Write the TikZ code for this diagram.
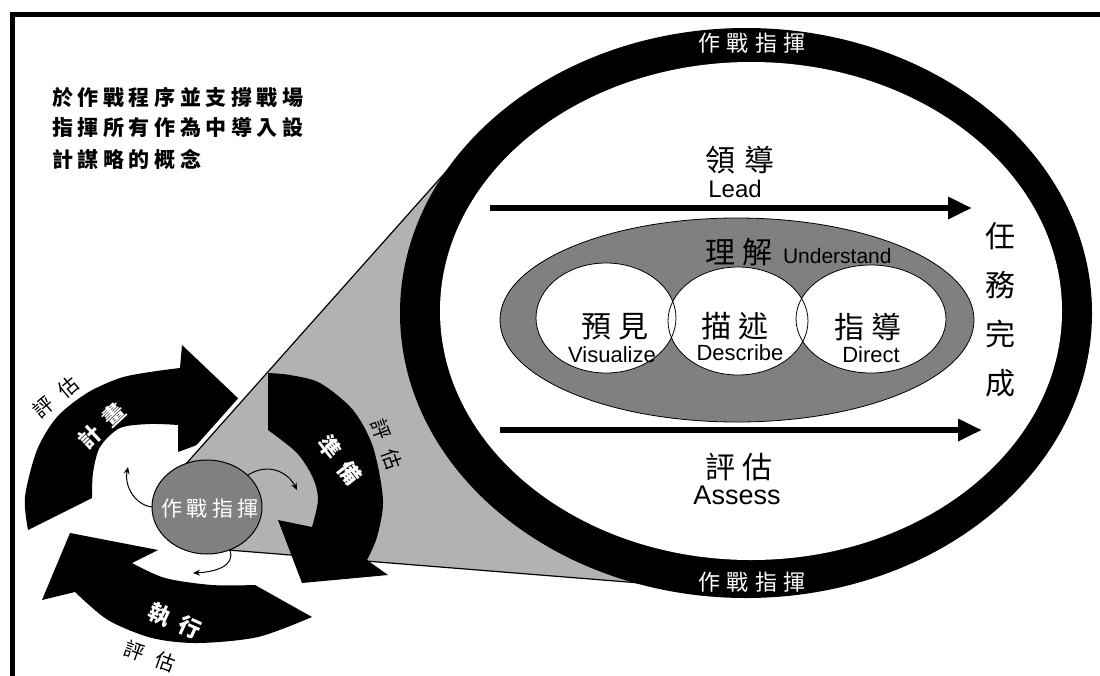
\documentclass[tikz,border=0pt]{standalone}
\usepackage{fontspec}
\setmainfont{Liberation Sans}
\newfontfamily\cjk{Noto Sans CJK TC}
\newfontfamily\cjkA{Noto Sans CJK TC}[LetterSpace=22]
\newfontfamily\cjkB{Noto Sans CJK TC}[LetterSpace=28]
\newfontfamily\cjkD{Noto Sans CJK TC}[LetterSpace=50]
\newfontfamily\cjkE{Noto Sans CJK TC}[LetterSpace=60]
\usetikzlibrary{arrows.meta,shapes.geometric}
\definecolor{conegray}{gray}{0.70}
\definecolor{midgray}{gray}{0.50}
\begin{document}
\begin{tikzpicture}[x=1pt,y=-1pt,
  txt/.style={inner sep=0pt, outer sep=0pt},
  ringlabel/.style={txt, text=white, font=\cjkB\fontsize{22}{22}\selectfont},
  cjkbig/.style={txt, font=\cjkA\fontsize{30}{30}\selectfont},
  englabel/.style={txt, font=\fontsize{22}{22}\selectfont},
  steplabel/.style={txt, text=white, font=\cjkD\bfseries\fontsize{22}{22}\selectfont},
  evallabel/.style={txt, font=\cjkE\fontsize{20}{20}\selectfont},
  introtext/.style={txt, anchor=west, font=\cjkA\bfseries\fontsize{21}{21}\selectfont},
  blockarrow/.style={fill=black},
  thinarrow/.style={line width=1pt, -{Stealth[length=7pt,width=6pt]}},
  mainarrow/.style={line width=6pt, -{Triangle[length=24pt,width=21pt]}},
  oval/.style={ellipse, inner sep=0pt, outer sep=0pt}
]
\useasboundingbox (0,0) rectangle (1100,675);
\fill[white] (0,0) rectangle (1100,675);
% frame
\draw[line width=5pt] (12,680) -- (12,14.5) -- (1105,14.5);

% plan arrow (behind the cone)
\fill[blockarrow] (28,530) -- (92,498)
  -- plot[smooth] coordinates {(92,498) (93,473) (100,447) (120,428) (150,424) (178,425)}
  -- (178,452) -- (262,421) -- (182,345) -- (180,368)
  -- plot[smooth] coordinates {(180,368) (150,372) (120,378) (87,393) (57,417) (37,450) (25,497) (28,530)}
  -- cycle;

% cone
\coordinate (c1) at (185,465);
\coordinate (c2) at (452,165);
\coordinate (c3) at (560,350);
\coordinate (c4) at (640,583);
\coordinate (c5) at (228,550);
\draw[white, line width=9pt] (c1) -- (c2);
\fill[conegray] (c1) -- (c2) -- (c3) -- (c4) -- (c5) -- cycle;
\draw[line width=1.2pt] (c1) -- (c2);
\draw[line width=1.2pt] (c5) -- (c4);

% big ring
\node[oval, fill=black, minimum width=692pt, minimum height=570pt] (ringout) at (746,313) {};
\node[oval, fill=white, minimum width=622pt, minimum height=498pt] (ringin) at (751,311) {};
\node[ringlabel] (rtop) at (752,43) {作戰指揮};
\node[ringlabel] (rbot) at (752,582) {作戰指揮};

% understand ellipse and three circles
\node[oval, draw, line width=0.8pt, fill=midgray, minimum width=474pt, minimum height=204pt] (und) at (737,320) {};
\node[oval, fill=white, minimum width=140pt, minimum height=110pt] (vis) at (606,318) {};
\node[oval, fill=white, minimum width=140pt, minimum height=108pt] (des) at (738,321) {};
\node[oval, fill=white, minimum width=150pt, minimum height=108pt] (dir) at (871,319) {};
\draw[line width=0.8pt] (vis.center) ellipse [x radius=70, y radius=55];
\draw[line width=0.8pt] (des.center) ellipse [x radius=70, y radius=54];
\draw[line width=0.8pt] (dir.center) ellipse [x radius=75, y radius=54];

\node[cjkbig] (undzh) at (739,252) {理解};
\node[txt, anchor=west, font=\fontsize{21}{21}\selectfont] (unden) at (783,256) {Understand};
\node[cjkbig] (viszh) at (615,327) {預見};
\node[englabel] (visen) at (612,355) {Visualize};
\node[cjkbig] (deszh) at (735,326) {描述};
\node[englabel] (desen) at (740,353) {Describe};
\node[cjkbig] (dirzh) at (868,327) {指導};
\node[englabel] (diren) at (871,355) {Direct};

% lead / assess arrows
\coordinate (la) at (490,208);
\coordinate (lb) at (972,208);
\draw[mainarrow] (la) -- (lb);
\coordinate (aa) at (500,430);
\coordinate (ab) at (982,430);
\draw[mainarrow] (aa) -- (ab);
\node[txt, font=\cjkB\fontsize{30}{30}\selectfont] (leadzh) at (740,160) {領導};
\node[txt, font=\fontsize{24}{24}\selectfont] (leaden) at (735,189) {Lead};
\node[cjkbig] (asszh) at (739,467) {評估};
\node[txt, font=\fontsize{27}{27}\selectfont] (assen) at (737,495) {Assess};
\node[txt, align=center, font=\cjk\fontsize{30}{49}\selectfont] (mission) at (1000,310) {任\\務\\完\\成};

% prepare arrow
\fill[blockarrow] (268,373) -- (268,430)
  -- plot[smooth] coordinates {(268,430) (297,453) (313,478) (318,500) (312,527)}
  -- (278,520) -- (302,583) -- (388,575) -- (367,560)
  -- plot[smooth] coordinates {(367,560) (377,537) (383,500) (373,447) (353,410) (320,383) (290,375) (268,373)}
  -- cycle;

% execute arrow
\fill[blockarrow] (70,533) -- (158,550) -- (132,563)
  -- plot[smooth] coordinates {(132,563) (165,578) (212,585) (255,585)}
  -- (312,617)
  -- plot[smooth] coordinates {(312,617) (258,637) (198,643) (152,638) (108,620) (75,592)}
  -- (42,600) -- cycle;

% central circle
\node[oval, draw, line width=1pt, fill=midgray, minimum width=110pt, minimum height=94pt] (cc) at (207,507) {};
\node[txt, text=white, font=\cjkA\fontsize{21}{21}\selectfont] (cctext) at (210,509) {作戰指揮};
\coordinate (t1) at (128,467);
\coordinate (t2) at (297,490);
\coordinate (t3) at (193,573);
\draw[thinarrow] (cc.west) .. controls (135,505) and (124,486) .. (t1);
\draw[thinarrow] (cc.38) .. controls (268,462) and (288,472) .. (t2);
\draw[thinarrow] (cc.-62) .. controls (236,566) and (215,572) .. (t3);

% step labels
\node[steplabel, rotate=43] (plan) at (102,426) {計畫};
\node[steplabel, rotate=-52] (prep) at (340,460) {準備};
\node[steplabel, rotate=-24] (exec) at (175,621) {執行};
\node[evallabel, rotate=40] (ev1) at (56,397) {評估};
\node[evallabel, rotate=-70] (ev2) at (387,444) {評估};
\node[evallabel, rotate=-20] (ev3) at (150,656) {評估};

% intro text
\node[introtext] (l1) at (52,97) {於作戰程序並支撐戰場};
\node[introtext] (l2) at (52,128) {指揮所有作為中導入設};
\node[introtext] (l3) at (52,159) {計謀略的概念};
\end{tikzpicture}
\end{document}
